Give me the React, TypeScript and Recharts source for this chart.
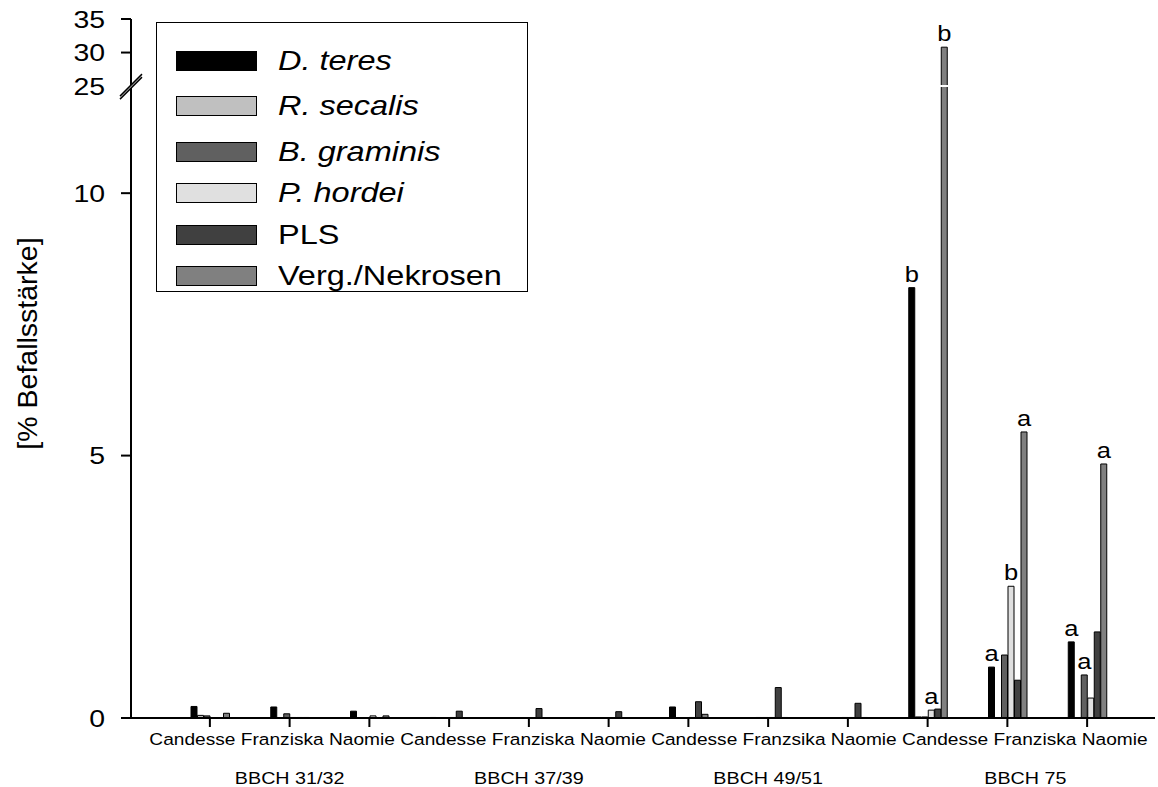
import { BarChart, Bar, XAxis, YAxis, Legend, LabelList, ReferenceLine } from "recharts";

const varieties = [
  "Candesse", "Franziska", "Naomie",
  "Candesse", "Franziska", "Naomie",
  "Candesse", "Franzsika", "Naomie",
  "Candesse", "Franziska", "Naomie",
];
const stages = ["BBCH 31/32", "BBCH 37/39", "BBCH 49/51", "BBCH 75"];

const dTeres = [0.22, 0.21, 0.13, 0.01, 0, 0, 0.21, 0, 0, 8.2, 0.97, 1.45];
const rSecalis = [0.05, 0, 0, 0.005, 0, 0, 0, 0.01, 0, 0.02, 0, 0];
const bGraminis = [0.04, 0.08, 0, 0, 0, 0, 0, 0.01, 0.01, 0.02, 1.2, 0.82];
const pHordei = [0, 0.01, 0.04, 0.01, 0, 0, 0.01, 0.01, 0.01, 0.15, 2.51, 0.38];
const pls = [0, 0.01, 0, 0.13, 0.18, 0.12, 0.31, 0.58, 0.28, 0.17, 0.72, 1.64];
const verg = [0.09, 0.01, 0.04, 0, 0, 0, 0.07, 0.01, 0.01, 30.8, 5.45, 4.84];

// significance letters over the BBCH 75 bars
const dTeresLetters = ["", "", "", "", "", "", "", "", "", "b", "a", "a"];
const bGraminisLetters = ["", "", "", "", "", "", "", "", "", "", "", "a"];
const pHordeiLetters = ["", "", "", "", "", "", "", "", "", "a", "b", ""];
const vergLetters = ["", "", "", "", "", "", "", "", "", "b", "a", "a"];
const noLetters = ["", "", "", "", "", "", "", "", "", "", "", ""];

const yTicks = [0, 5, 10, 25, 30, 35];

const series = [
  { key: "dTeres", name: "D. teres", italic: true, fill: "#000000", values: dTeres, letters: dTeresLetters },
  { key: "rSecalis", name: "R. secalis", italic: true, fill: "#c0c0c0", values: rSecalis, letters: noLetters },
  { key: "bGraminis", name: "B. graminis", italic: true, fill: "#606060", values: bGraminis, letters: bGraminisLetters },
  { key: "pHordei", name: "P. hordei", italic: true, fill: "#e0e0e0", values: pHordei, letters: pHordeiLetters },
  { key: "pls", name: "PLS", italic: false, fill: "#404040", values: pls, letters: noLetters },
  { key: "verg", name: "Verg./Nekrosen", italic: false, fill: "#808080", values: verg, letters: vergLetters },
];

const data = varieties.map((variety, i) => {
  const row: Record<string, any> = { variety, slot: `${stages[Math.floor(i / 3)]} ${variety}` };
  series.forEach((s) => {
    row[s.key] = s.values[i];
    row[s.key + "Letter"] = s.letters[i] || undefined;
  });
  return row;
});

// broken y axis: 0..~12 linear, then 25..35 squeezed into the top strip
const LOW_TOP = 12.04;
const HIGH_START = 25;
const HIGH_END = 35;
const LOW_SHARE = 0.904;

function fraction(v: number) {
  if (v <= LOW_TOP) return (v / LOW_TOP) * LOW_SHARE;
  if (v < HIGH_START) return LOW_SHARE;
  return LOW_SHARE + ((v - HIGH_START) / (HIGH_END - HIGH_START)) * (1 - LOW_SHARE);
}

function brokenScale(): any {
  let dom: number[] = [0, HIGH_END];
  let rng: number[] = [0, 1];
  const s: any = (v: number) => rng[0] + (rng[1] - rng[0]) * fraction(v);
  s.domain = (d?: number[]) => {
    if (d === undefined) return dom;
    dom = [...d];
    return s;
  };
  s.range = (r?: number[]) => {
    if (r === undefined) return rng;
    rng = [...r];
    return s;
  };
  s.ticks = () => yTicks;
  s.copy = () => brokenScale().domain(dom).range(rng);
  return s;
}

const AXIS_X = 131;
const STRETCH = 1.16; // the original's lettering is a bit wider than Arial
const stageNudge = [0, 0, 0, 18];

function Wide({ x, y, anchor, size, dy, children }: any) {
  return (
    <text
      transform={`translate(${x} ${y}) scale(${STRETCH} 1)`}
      x={0}
      y={0}
      dy={dy}
      textAnchor={anchor}
      fontSize={size}
      fill="#000"
    >
      {children}
    </text>
  );
}

function YTick(props: any) {
  const { y, payload } = props;
  const v = payload.value;
  const label = (
    <Wide x={AXIS_X - 26} y={y} anchor="end" size={24.5} dy="0.355em">
      {v}
    </Wide>
  );
  if (v === HIGH_START) {
    return (
      <g>
        <polygon
          points={`${AXIS_X - 11},${y + 10} ${AXIS_X + 11},${y - 12} ${AXIS_X + 11},${y - 9} ${AXIS_X - 11},${y + 13}`}
          fill="#fff"
        />
        <line x1={AXIS_X - 11} y1={y + 10} x2={AXIS_X + 11} y2={y - 12} stroke="#000" strokeWidth={1.5} />
        <line x1={AXIS_X - 11} y1={y + 13} x2={AXIS_X + 11} y2={y - 9} stroke="#000" strokeWidth={1.5} />
        {label}
      </g>
    );
  }
  return (
    <g>
      <line x1={AXIS_X - 10} y1={y} x2={AXIS_X} y2={y} stroke="#000" strokeWidth={2} />
      {label}
    </g>
  );
}

// the variety names run as one evenly spaced line under the ticks
function VarietyTick(props: any) {
  const { x, y, index, payload, visibleTicksCount } = props;
  if (index !== 0) return null;
  const step = payload && payload.offset ? payload.offset * 2 : 79.75;
  const cx = x + (step * ((visibleTicksCount || varieties.length) - 1)) / 2;
  return (
    <Wide x={cx} y={y} anchor="middle" size={16.5} dy="0.71em">
      {varieties.join(" ")}
    </Wide>
  );
}

function StageTick(props: any) {
  const { x, y, index } = props;
  if (index % 3 !== 1) return null;
  const g = (index - 1) / 3;
  return (
    <Wide x={x + stageNudge[g]} y={y} anchor="middle" size={17} dy="0.71em">
      {stages[g]}
    </Wide>
  );
}

function Letter(props: any) {
  const { x, y, width, value } = props;
  if (!value) return null;
  return (
    <Wide x={x + width / 2} y={y - 6} anchor="middle" size={22} dy={0}>
      {value}
    </Wide>
  );
}

function BreakGap(props: any) {
  const { x1, y1, x2 } = props;
  return <line x1={x1 + 12} y1={y1} x2={x2} y2={y1} stroke="#fff" strokeWidth={2} />;
}

const legendRowCenters = [38, 83, 129, 170, 212, 253];

function LegendBox() {
  return (
    <div style={{ position: "relative", width: "100%", height: "100%" }}>
      {series.map((s, i) => (
        <div
          key={s.key}
          style={{
            position: "absolute",
            left: 19,
            top: legendRowCenters[i] - 15,
            height: 30,
            display: "flex",
            alignItems: "center",
            whiteSpace: "nowrap",
          }}
        >
          <span
            style={{
              display: "inline-block",
              width: 81,
              height: 20,
              background: s.fill,
              border: "1.5px solid #000",
              boxSizing: "border-box",
            }}
          />
          <span
            style={{
              display: "inline-block",
              marginLeft: 21,
              fontSize: 28,
              lineHeight: 1,
              fontStyle: s.italic ? "italic" : "normal",
              color: "#000",
              transform: "scaleX(1.16)",
              transformOrigin: "left center",
            }}
          >
            {s.name}
          </span>
        </div>
      ))}
    </div>
  );
}

function YLabel(props: any) {
  const { viewBox } = props;
  const cx = 27;
  const cy = viewBox.y + viewBox.height / 2 - 25;
  return (
    <text x={cx} y={cy} transform={`rotate(-90, ${cx}, ${cy})`} textAnchor="middle" dy="0.355em" fontSize={28.5} fill="#000">
      [% Befallsstärke]
    </text>
  );
}

export default function App() {
  return (
    <div style={{ position: "absolute", left: 0, top: 0, fontFamily: "'Liberation Sans', Arial, sans-serif", background: "#fff" }}>
      <BarChart
        width={1158}
        height={787}
        data={data}
        margin={{ top: 19, right: 3, bottom: 0, left: 0 }}
        barSize={6}
        barGap={0.5}
      >
        <XAxis
          dataKey="variety"
          interval={0}
          padding={{ left: 39, right: 28 }}
          height={38}
          tickSize={9}
          tickMargin={6}
          tick={<VarietyTick />}
          axisLine={{ stroke: "#000", strokeWidth: 2 }}
          tickLine={{ stroke: "#000", strokeWidth: 2 }}
        />
        <XAxis
          xAxisId="stage"
          dataKey="slot"
          interval={0}
          padding={{ left: 39, right: 28 }}
          height={31}
          tickSize={0}
          tickMargin={16}
          axisLine={false}
          tickLine={false}
          tick={<StageTick />}
        />
        <YAxis
          type="number"
          scale={brokenScale()}
          domain={[0, HIGH_END]}
          ticks={yTicks}
          interval={0}
          width={131}
          tickSize={10}
          tickMargin={15}
          tickLine={false}
          axisLine={{ stroke: "#000", strokeWidth: 2 }}
          tick={<YTick />}
          label={<YLabel />}
        />
        {series.map((s) => (
          <Bar
            key={s.key}
            dataKey={s.key}
            name={s.name}
            fill={s.fill}
            stroke="#000"
            strokeWidth={1}
            isAnimationActive={false}
          >
            <LabelList dataKey={s.key + "Letter"} content={<Letter />} />
          </Bar>
        ))}
        <ReferenceLine y={HIGH_START} shape={<BreakGap />} />
        <Legend
          layout="vertical"
          align="center"
          verticalAlign="middle"
          content={<LegendBox />}
          wrapperStyle={{
            left: 156,
            top: 22,
            width: 372,
            height: 270,
            border: "1.5px solid #000",
            background: "#fff",
            boxSizing: "border-box",
          }}
        />
      </BarChart>
    </div>
  );
}
